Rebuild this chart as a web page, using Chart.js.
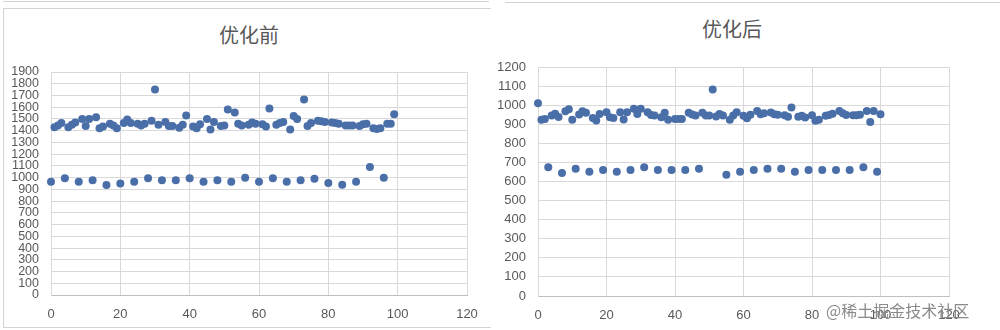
<!DOCTYPE html>
<html>
<head>
<meta charset="utf-8">
<script src="https://cdn.jsdelivr.net/npm/chart.js@4/dist/chart.umd.min.js"></script>
<style>
  body { margin: 0; background: #fff; }
  #page { position: relative; width: 1000px; height: 330px; overflow: hidden; }
  .frame { position: absolute; border: 1px solid #d4d4d4; }
  .title {
    position: absolute; font-family: "Noto Sans CJK SC", sans-serif;
    font-size: 20px; color: #595959; transform: translateX(-50%); white-space: nowrap;
  }
  #mark {
    position: absolute; left: 826px; top: 298px; font-family: "Noto Sans CJK SC", sans-serif;
    font-size: 16px; color: #8a8a8a; white-space: nowrap;
  }
</style>
</head>
<body>
<div id="page">
  <div class="frame" style="left:3px;top:1px;width:486px;height:0;border-width:1px 0 0 0"></div>
  <div class="frame" style="left:3px;top:8px;width:487px;height:318px;border-right:none"></div>
  <div class="frame" style="left:505px;top:2px;width:500px;height:0;border-width:1px 0 0 0"></div>
  <div class="title" style="left:249px;top:20px">优化前</div>
  <div class="title" style="left:732px;top:14px">优化后</div>
  <canvas id="before" style="position:absolute;left:0;top:0"></canvas>
  <canvas id="after" style="position:absolute;left:490px;top:0"></canvas>
  <div id="mark">@稀土掘金技术社区</div>
</div>
<script>
// before optimisation: slow group (x, ms) and fast group
const beforeHighX = [1, 2, 3, 5, 6, 7, 9, 10, 11, 13, 14, 15, 17, 18, 19, 21, 22, 23, 25, 26, 27, 29, 30, 31, 33, 34, 35, 37, 38, 39, 41, 42, 43, 45, 46, 47, 49, 50, 51, 53, 54, 55, 57, 58, 59, 61, 62, 63, 65, 66, 67, 69, 70, 71, 73, 74, 75, 77, 78, 79, 81, 82, 83, 85, 86, 87, 89, 90, 91, 93, 94, 95, 97, 98, 99];
const beforeHighY = [1430, 1445, 1465, 1430, 1450, 1470, 1500, 1440, 1500, 1515, 1420, 1435, 1460, 1445, 1420, 1465, 1495, 1465, 1460, 1445, 1460, 1485, 1750, 1450, 1475, 1440, 1440, 1425, 1450, 1530, 1435, 1420, 1455, 1500, 1410, 1475, 1440, 1445, 1580, 1555, 1460, 1445, 1450, 1470, 1460, 1455, 1435, 1590, 1450, 1465, 1475, 1410, 1525, 1500, 1665, 1440, 1465, 1485, 1480, 1475, 1470, 1465, 1460, 1445, 1445, 1445, 1440, 1455, 1460, 1420, 1415, 1420, 1460, 1460, 1540];
const beforeLowX = [0, 4, 8, 12, 16, 20, 24, 28, 32, 36, 40, 44, 48, 52, 56, 60, 64, 68, 72, 76, 80, 84, 88, 92, 96];
const beforeLowY = [965, 995, 965, 978, 938, 950, 965, 995, 978, 978, 995, 965, 978, 965, 1000, 965, 995, 965, 978, 990, 955, 940, 965, 1090, 1000];

// after optimisation
const afterHighX = [0, 1, 2, 4, 5, 6, 8, 9, 10, 12, 13, 14, 16, 17, 18, 20, 21, 22, 24, 25, 26, 28, 29, 30, 32, 33, 34, 36, 37, 38, 40, 41, 42, 44, 45, 46, 48, 49, 50, 51, 52, 53, 54, 56, 57, 58, 60, 61, 62, 64, 65, 66, 68, 69, 70, 72, 73, 74, 76, 77, 78, 80, 81, 82, 84, 85, 86, 88, 89, 90, 92, 93, 94, 96, 97, 98, 100];
const afterHighY = [1010, 923, 928, 946, 955, 938, 968, 979, 923, 951, 968, 960, 933, 919, 954, 963, 937, 933, 963, 925, 963, 981, 954, 981, 963, 949, 946, 937, 960, 923, 928, 928, 928, 960, 951, 946, 960, 946, 946, 1082, 940, 954, 946, 923, 946, 963, 944, 932, 950, 970, 953, 958, 961, 953, 950, 947, 939, 988, 939, 944, 935, 947, 918, 923, 944, 949, 955, 970, 958, 949, 947, 947, 950, 970, 912, 970, 953];
const afterLowX = [3, 7, 11, 15, 19, 23, 27, 31, 35, 39, 43, 47, 55, 59, 63, 67, 71, 75, 79, 83, 87, 91, 95, 99];
const afterLowY = [675, 645, 667, 651, 660, 651, 660, 675, 660, 660, 660, 667, 635, 651, 660, 667, 667, 651, 660, 660, 660, 660, 675, 651];

const dotColor = "#4a6fa8";
const gridColor = "#d9d9d9";

function toPoints(xs, ys) {
  return xs.map((x, i) => ({ x: x, y: ys[i] }));
}

function makeChart(id, width, series, yMax, pad, yWidth, xHeight, fontSize) {
  const canvas = document.getElementById(id);
  canvas.width = width;
  canvas.height = 330;
  const tickFont = { family: "Liberation Sans", size: fontSize };
  return new Chart(canvas.getContext("2d"), {
    type: "scatter",
    data: {
      datasets: series.map((s) => ({
        data: toPoints(s[0], s[1]),
        backgroundColor: dotColor,
        borderColor: dotColor,
        pointRadius: 4,
        borderWidth: 0,
        clip: false,
      })),
    },
    options: {
      responsive: false,
      animation: false,
      layout: { padding: pad },
      plugins: { legend: { display: false }, tooltip: { enabled: false } },
      scales: {
        x: {
          min: 0,
          max: 120,
          ticks: { stepSize: 20, padding: 12, color: "#595959", font: { family: "Liberation Sans", size: 13 }, maxRotation: 0, callback: (v) => String(v) },
          grid: { color: gridColor, drawTicks: false },
          border: { color: "#bfbfbf" },
          afterFit: (scale) => { scale.height = xHeight; },
        },
        y: {
          min: 0,
          max: yMax,
          ticks: { stepSize: 100, padding: 12, autoSkip: false, color: "#595959", font: tickFont, callback: (v) => String(v) },
          grid: { color: gridColor, drawTicks: false },
          border: { color: "#d9d9d9" },
          afterFit: (scale) => { scale.width = yWidth; },
        },
      },
    },
  });
}

makeChart("before", 490,
  [[beforeHighX, beforeHighY], [beforeLowX, beforeLowY]],
  1900, { top: 72, left: 8, right: 23, bottom: 5 }, 43, 30, 12.5);

makeChart("after", 510,
  [[afterHighX, afterHighY], [afterLowX, afterLowY]],
  1200, { top: 67, left: 5, right: 51, bottom: 5 }, 43, 29, 13);
</script>
</body>
</html>
